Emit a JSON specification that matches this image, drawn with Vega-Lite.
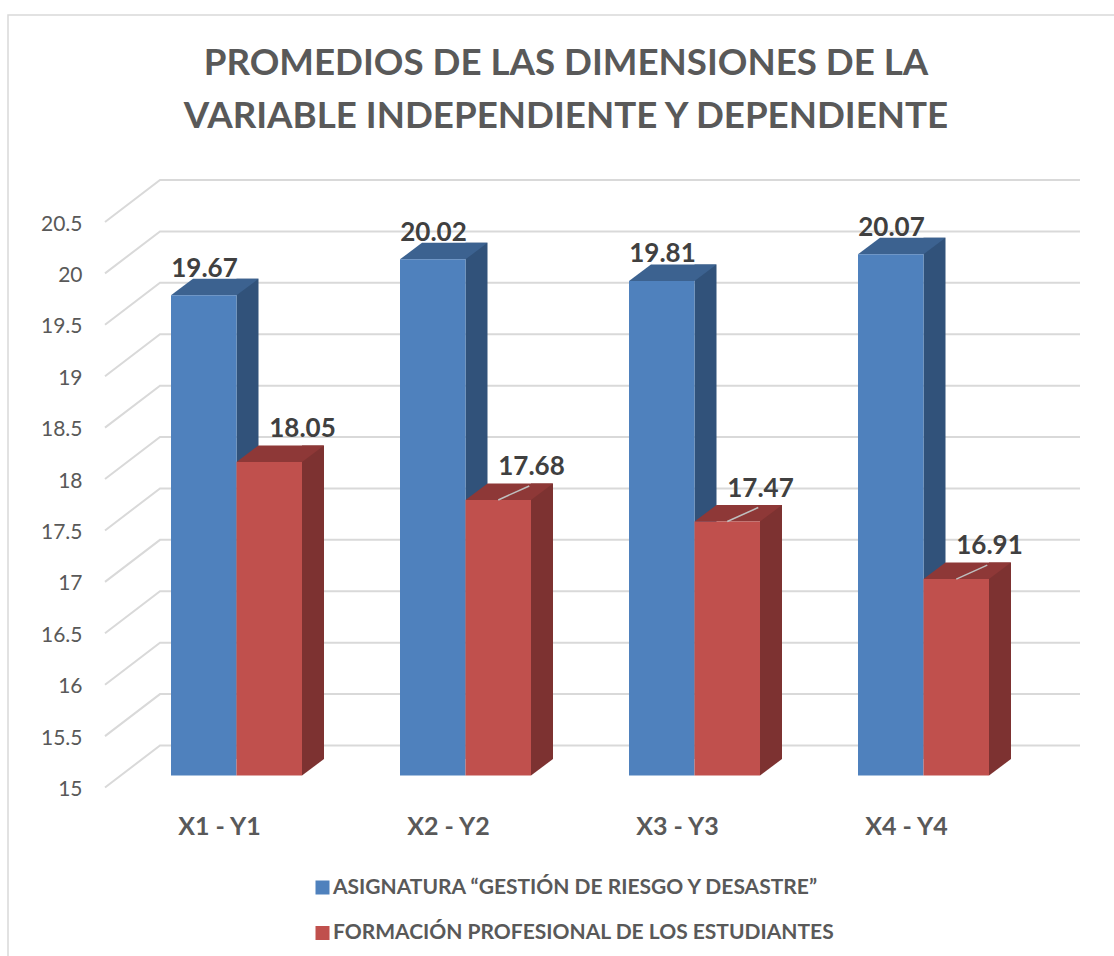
{
"$schema":"https://vega.github.io/schema/vega-lite/v6.json",
"width":1107,"height":942,
"autosize":{"type":"none"},
"padding":{"left":8,"top":15,"right":0,"bottom":0},
"background":"#ffffff",
"view":{"stroke":"#d9d9d9","strokeWidth":1.5,"fill":"#ffffff"},
"config":{"font":"Lato"},
"title":{"text":["PROMEDIOS DE LAS DIMENSIONES DE LA","VARIABLE INDEPENDIENTE Y DEPENDIENTE"],"anchor":"middle","frame":"group","font":"Lato","fontSize":36.7,"fontWeight":"bold","color":"#595959","lineHeight":53,"baseline":"alphabetic","dx":4.5,"dy":150,"offset":0},
"datasets":{
"promedios":[
{"par":"X1 - Y1","serie":"ASIGNATURA “GESTIÓN DE RIESGO Y DESASTRE”","promedio":19.67},
{"par":"X2 - Y2","serie":"ASIGNATURA “GESTIÓN DE RIESGO Y DESASTRE”","promedio":20.02},
{"par":"X3 - Y3","serie":"ASIGNATURA “GESTIÓN DE RIESGO Y DESASTRE”","promedio":19.81},
{"par":"X4 - Y4","serie":"ASIGNATURA “GESTIÓN DE RIESGO Y DESASTRE”","promedio":20.07},
{"par":"X1 - Y1","serie":"FORMACIÓN PROFESIONAL DE LOS ESTUDIANTES","promedio":18.05},
{"par":"X2 - Y2","serie":"FORMACIÓN PROFESIONAL DE LOS ESTUDIANTES","promedio":17.68},
{"par":"X3 - Y3","serie":"FORMACIÓN PROFESIONAL DE LOS ESTUDIANTES","promedio":17.47},
{"par":"X4 - Y4","serie":"FORMACIÓN PROFESIONAL DE LOS ESTUDIANTES","promedio":16.91}
],
"marcas":[{"v":15},{"v":15.5},{"v":16},{"v":16.5},{"v":17},{"v":17.5},{"v":18},{"v":18.5},{"v":19},{"v":19.5},{"v":20},{"v":20.5}]
},
"encoding":{
"x":{"field":"par","type":"nominal","title":null,"scale":{"domain":["X1 - Y1","X2 - Y2","X3 - Y3","X4 - Y4"],"range":[97,1013],"paddingInner":0,"paddingOuter":0},"axis":{"orient":"bottom","offset":-123,"domain":false,"ticks":false,"labelAngle":0,"labelPadding":0,"labelBaseline":"alphabetic","labelFont":"Lato","labelFontSize":25,"labelFontWeight":"bold","labelColor":"#595959"}},
"y":{"field":"promedio","type":"quantitative","stack":null,"title":null,"scale":{"domain":[15,20.5],"range":[772.5,207],"zero":false,"nice":false},"axis":{"orient":"left","offset":-74,"values":[15,15.5,16,16.5,17,17.5,18,18.5,19,19.5,20,20.5],"format":"~g","domain":false,"ticks":false,"grid":false,"labelPadding":0,"labelOffset":2,"labelFont":"Lato","labelFontSize":21,"labelColor":"#595959"}}
},
"layer":[
{"data":{"name":"marcas"},"mark":{"type":"point","shape":"M0,0L55,-42L975,-42","filled":false,"size":4,"opacity":1,"stroke":"#d9d9d9","strokeWidth":2,"xOffset":-114.5},
 "encoding":{"x":{"datum":"X1 - Y1"},"y":{"field":"v","type":"quantitative"}}},
{"data":{"name":"promedios"},"transform":[{"filter":"test(/^ASIG/,datum.serie)"}],"mark":{"type":"bar","width":22,"fill":"#31527a","xOffset":28,"yOffset":-28.5,"y2Offset":-28.5},"encoding":{"y2":{"datum":15}}},
{"data":{"name":"promedios"},"transform":[{"filter":"test(/^ASIG/,datum.serie)"}],"mark":{"type":"point","shape":"M0,0L65.5,0L87.5,-16.5L22,-16.5Z","filled":true,"size":4,"opacity":1,"fill":"#3c6290","strokeWidth":0,"xOffset":-48.5,"yOffset":-12}},
{"data":{"name":"promedios"},"transform":[{"filter":"test(/^ASIG/,datum.serie)"}],"mark":{"type":"bar","width":65.5,"xOffset":-15.75,"yOffset":-12,"y2Offset":-12},"encoding":{"y2":{"datum":15},"color":{"field":"serie","type":"nominal","scale":{"domain":["ASIGNATURA “GESTIÓN DE RIESGO Y DESASTRE”","FORMACIÓN PROFESIONAL DE LOS ESTUDIANTES"],"range":["#4f81bd","#c0504d"]},"legend":{"orient":"none","legendX":304,"legendY":862,"title":null,"symbolType":"square","symbolSize":196,"symbolStrokeWidth":0,"labelFont":"Lato","labelFontSize":21,"labelFontWeight":"bold","labelColor":"#595959","labelLimit":700,"rowPadding":23.5,"labelOffset":0,"columns":1}}}},
{"data":{"name":"promedios"},"transform":[{"filter":"test(/^FORM/,datum.serie)"}],"mark":{"type":"bar","width":22,"fill":"#7d3231","xOffset":93.5,"yOffset":-28.5,"y2Offset":-28.5},"encoding":{"y2":{"datum":15}}},
{"data":{"name":"promedios"},"transform":[{"filter":"test(/^FORM/,datum.serie)"}],"mark":{"type":"point","shape":"M0,0L22,-16.5L0,-16.5Z","filled":true,"size":4,"opacity":1,"fill":"#7d3231","strokeWidth":0,"xOffset":82.5,"yOffset":-12},"encoding":{"y":{"datum":15}}},
{"data":{"name":"promedios"},"transform":[{"filter":"test(/^FORM/,datum.serie)"}],"mark":{"type":"point","shape":"M0,0L65.5,0L87.5,-16.5L22,-16.5Z","filled":true,"size":4,"opacity":1,"fill":"#8e3837","strokeWidth":0,"xOffset":17,"yOffset":-12}},
{"data":{"name":"promedios"},"transform":[{"filter":"test(/^FORM/,datum.serie)"}],"mark":{"type":"bar","width":65.5,"xOffset":49.75,"yOffset":-12,"y2Offset":-12},"encoding":{"y2":{"datum":15},"color":{"field":"serie","type":"nominal"}}},
{"data":{"name":"promedios"},"transform":[{"filter":"test(/^FORM/,datum.serie) && datum.promedio<18"}],"mark":{"type":"point","shape":"M0,0L31,-14","filled":false,"size":4,"opacity":1,"stroke":"#bfbfbf","strokeWidth":1.5,"xOffset":49.75,"yOffset":-12}},
{"data":{"name":"promedios"},"transform":[{"filter":"test(/^ASIG/,datum.serie)"}],"mark":{"type":"text","font":"Lato","fontSize":26,"fontWeight":"bold","fill":"#404040","baseline":"alphabetic","align":"center","xOffset":-15,"yOffset":-30.5},"encoding":{"text":{"field":"promedio","type":"quantitative","format":".2f"}}},
{"data":{"name":"promedios"},"transform":[{"filter":"test(/^FORM/,datum.serie)"}],"mark":{"type":"text","font":"Lato","fontSize":26,"fontWeight":"bold","fill":"#404040","baseline":"alphabetic","align":"center","xOffset":83,"yOffset":-37},"encoding":{"text":{"field":"promedio","type":"quantitative","format":".2f"}}}
]
}
